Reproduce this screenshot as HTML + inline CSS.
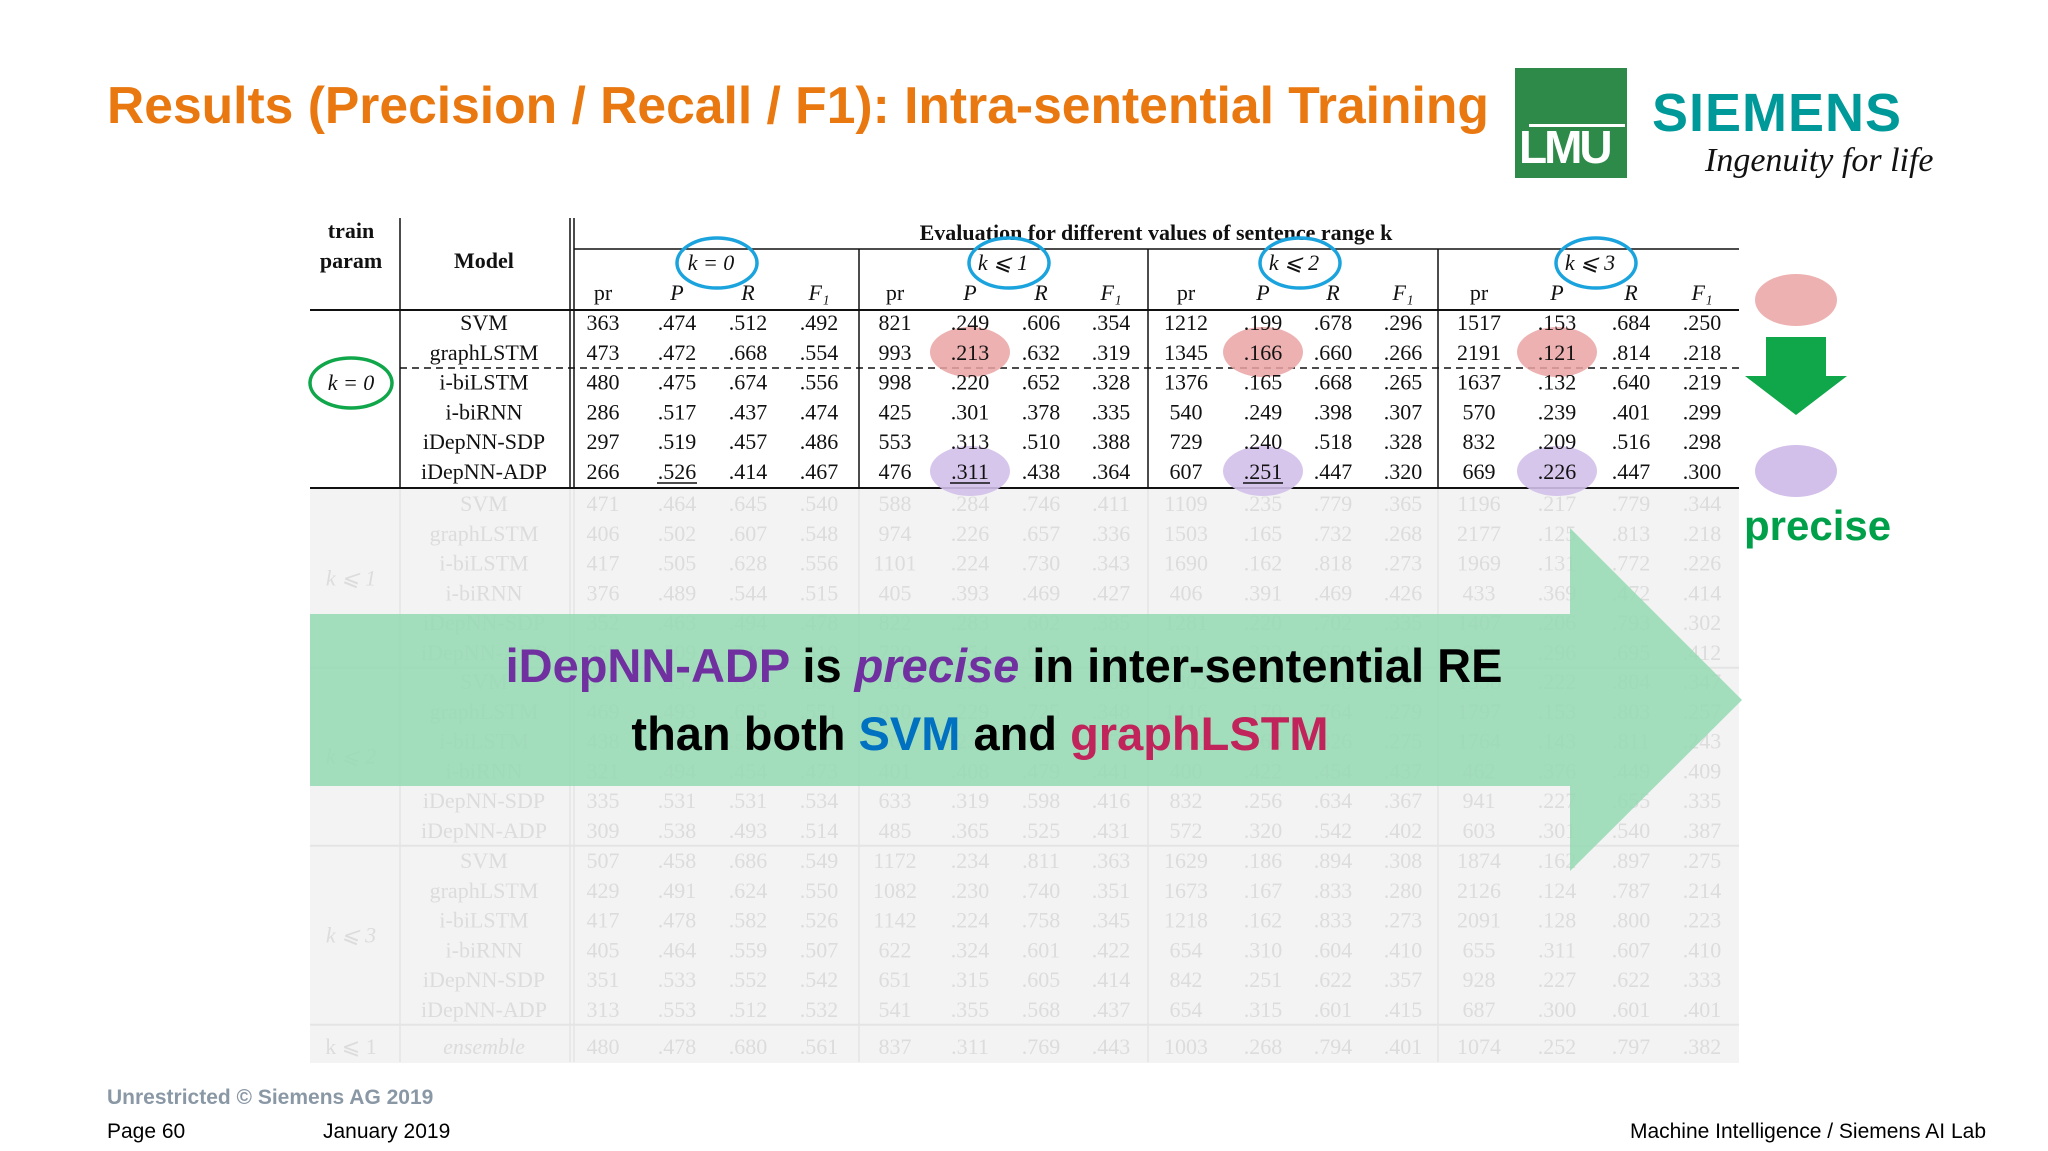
<!DOCTYPE html>
<html><head><meta charset="utf-8"><style>
body{margin:0;width:2048px;height:1151px;background:#fff;overflow:hidden;position:relative;font-family:"Liberation Sans",sans-serif}
.abs{position:absolute}
</style></head><body>
<div class="abs" style="left:107px;top:75px;font-size:51.6px;font-weight:bold;color:#E8780F;white-space:nowrap">Results (Precision / Recall / F1): Intra-sentential Training</div>
<div class="abs" style="left:1515px;top:68px;width:112px;height:110px;background:#2D8A48;">
 <div style="position:absolute;left:4px;bottom:4px;color:#fff;font-size:46px;font-weight:bold;letter-spacing:-3px;font-family:'Liberation Sans Narrow','Liberation Sans',sans-serif">LMU</div>
 <div style="position:absolute;left:14px;top:56px;width:96px;height:3px;background:#fff"></div>
</div>
<div class="abs" style="left:1652px;top:82px;font-size:54px;font-weight:bold;color:#009999;letter-spacing:1px">SIEMENS</div>
<div class="abs" style="left:1705px;top:142px;font-size:34px;font-style:italic;font-family:'Liberation Serif',serif;color:#111">Ingenuity for life</div>

<svg class="abs" style="left:0;top:0" width="2048" height="1151" id="tbl"></svg>

<div class="abs" style="left:1744px;top:502px;font-size:42px;font-weight:bold;color:#00A04A">precise</div>

<div class="abs" style="left:107px;top:1086px;font-size:21px;font-weight:bold;color:#8a98a6">Unrestricted © Siemens AG 2019</div>
<div class="abs" style="left:107px;top:1120px;font-size:21px;color:#000">Page 60</div>
<div class="abs" style="left:323px;top:1120px;font-size:21px;color:#000">January 2019</div>
<div class="abs" style="right:62px;top:1120px;font-size:21px;color:#000">Machine Intelligence / Siemens AI Lab</div>

<script>
const models=["SVM","graphLSTM","i-biLSTM","i-biRNN","iDepNN-SDP","iDepNN-ADP"];
const groupLabels=["k = 0","k ⩽ 1","k ⩽ 2","k ⩽ 3"];
const colHeads=["pr","P","R","F₁"];
const rowsK0=[
["363",".474",".512",".492","821",".249",".606",".354","1212",".199",".678",".296","1517",".153",".684",".250"],
["473",".472",".668",".554","993",".213",".632",".319","1345",".166",".660",".266","2191",".121",".814",".218"],
["480",".475",".674",".556","998",".220",".652",".328","1376",".165",".668",".265","1637",".132",".640",".219"],
["286",".517",".437",".474","425",".301",".378",".335","540",".249",".398",".307","570",".239",".401",".299"],
["297",".519",".457",".486","553",".313",".510",".388","729",".240",".518",".328","832",".209",".516",".298"],
["266",".526",".414",".467","476",".311",".438",".364","607",".251",".447",".320","669",".226",".447",".300"]];
const rowsK1=[
["471",".464",".645",".540","588",".284",".746",".411","1109",".235",".779",".365","1196",".217",".779",".344"],
["406",".502",".607",".548","974",".226",".657",".336","1503",".165",".732",".268","2177",".125",".813",".218"],
["417",".505",".628",".556","1101",".224",".730",".343","1690",".162",".818",".273","1969",".131",".772",".226"],
["376",".489",".544",".515","405",".393",".469",".427","406",".391",".469",".426","433",".369",".472",".414"],
["352",".463",".494",".478","822",".283",".602",".385","1281",".220",".702",".335","1407",".206",".793",".302"],
["358",".509",".511",".510","720",".354",".602",".421","821",".322",".659",".423","929",".296",".695",".412"]];
const rowsK2=[
["476",".457",".653",".538","683",".250",".797",".380","1302",".220",".798",".345","1358",".222",".804",".347"],
["469",".493",".625",".551","920",".229",".725",".348","1416",".170",".764",".279","1797",".153",".803",".257"],
["438",".511",".594",".549","964",".239",".692",".355","1406",".165",".826",".275","1764",".143",".811",".243"],
["321",".494",".454",".473","401",".408",".479",".441","400",".422",".454",".437","462",".376",".449",".409"],
["335",".531",".531",".534","633",".319",".598",".416","832",".256",".634",".367","941",".227",".655",".335"],
["309",".538",".493",".514","485",".365",".525",".431","572",".320",".542",".402","603",".301",".540",".387"]];
const rowsK3=[
["507",".458",".686",".549","1172",".234",".811",".363","1629",".186",".894",".308","1874",".162",".897",".275"],
["429",".491",".624",".550","1082",".230",".740",".351","1673",".167",".833",".280","2126",".124",".787",".214"],
["417",".478",".582",".526","1142",".224",".758",".345","1218",".162",".833",".273","2091",".128",".800",".223"],
["405",".464",".559",".507","622",".324",".601",".422","654",".310",".604",".410","655",".311",".607",".410"],
["351",".533",".552",".542","651",".315",".605",".414","842",".251",".622",".357","928",".227",".622",".333"],
["313",".553",".512",".532","541",".355",".568",".437","654",".315",".601",".415","687",".300",".601",".401"]];
const rowEnsemble=["480",".478",".680",".561","837",".311",".769",".443","1003",".268",".794",".401","1074",".252",".797",".382"];

const NS="http://www.w3.org/2000/svg";
const svg=document.getElementById('tbl');
function el(t,a,name){const e=document.createElementNS(NS,t);for(const k in a)e.setAttribute(k,a[k]);


svg.appendChild(e);return e;}
function txt(x,y,s,name,o){const e=el('text',Object.assign({x:x,y:y,'text-anchor':'middle','font-family':'Liberation Serif, serif','font-size':22,fill:'#111'},o||{}),name);e.textContent=s;return e;}
const colX=[603,677,748,819,895,970,1041,1111,1186,1263,1333,1403,1479,1557,1631,1702];
const groupX=[711,1003,1294,1590];
const L=310,R=1739,rowY0=330,step=29.8;
const FC='#dcdcdc';
el('rect',{x:L,y:489,width:R-L,height:574,fill:'#f3f3f3'},'faded-table-background');
const fadedGroups=[rowsK1,rowsK2,rowsK3];
const fadedStart=[511,689,868];
fadedGroups.forEach((g,gi)=>{
 txt(351,fadedStart[gi]+step*2.5,groupLabels[gi+1],'faded-train-label',{fill:FC,'font-style':'italic'});
 g.forEach((r,ri)=>{const y=fadedStart[gi]+ri*step;
  txt(484,y,models[ri],'faded-model-name',{fill:FC});
  r.forEach((v,ci)=>txt(colX[ci],y,v,'faded-cell',{fill:FC}));});
 el('line',{x1:L,x2:R,y1:fadedStart[gi]+6*step-22,y2:fadedStart[gi]+6*step-22,stroke:'#e4e4e4','stroke-width':2},'faded-group-rule');
});
txt(351,1054,'k ⩽ 1','faded-train-label',{fill:FC});
txt(484,1054,'ensemble','faded-model-name',{fill:FC,'font-style':'italic'});
rowEnsemble.forEach((v,ci)=>txt(colX[ci],1054,v,'faded-cell',{fill:FC}));
[400,570,574,859,1148,1438].forEach(x=>el('line',{x1:x,x2:x,y1:489,y2:1062,stroke:'#e4e4e4','stroke-width':1.5},'faded-vertical-rule'));
txt(351,238,'train','train-header',{'font-weight':'bold'});
txt(351,268,'param','param-header',{'font-weight':'bold'});
txt(484,268,'Model','model-header',{'font-weight':'bold'});
txt(1156,240,'Evaluation for different values of sentence range k','evaluation-header',{'font-weight':'bold'});
groupLabels.forEach((g,i)=>txt(groupX[i],270,g,'range-header',{'font-style':'italic'}));
colX.forEach((x,i)=>txt(x,300,colHeads[i%4],'column-header',{'font-style':i%4?'italic':'normal'}));
el('line',{x1:574,x2:R,y1:249,y2:249,stroke:'#111','stroke-width':1.5},'header-rule');
el('line',{x1:L,x2:R,y1:310,y2:310,stroke:'#111','stroke-width':2},'header-bottom-rule');
el('line',{x1:L,x2:R,y1:488,y2:488,stroke:'#111','stroke-width':2},'table-bottom-rule');
el('line',{x1:400,x2:R,y1:368,y2:368,stroke:'#111','stroke-width':1.5,'stroke-dasharray':'7,5'},'dashed-rule');
[[400,218],[570,218],[574,218],[859,249],[1148,249],[1438,249]].forEach(([x,y])=>el('line',{x1:x,x2:x,y1:y,y2:488,stroke:'#111','stroke-width':1.5},'vertical-rule'));
[970,1263,1557].forEach(x=>{
 el('ellipse',{cx:x,cy:352,rx:40,ry:25,fill:'#eba3a3',opacity:0.85},'highlight-graphlstm-p');
 el('ellipse',{cx:x,cy:471,rx:40,ry:25,fill:'#d3c0ea',opacity:0.9},'highlight-idepnn-adp-p');});
rowsK0.forEach((r,ri)=>{const y=rowY0+ri*step;
 txt(484,y,models[ri],'model-name');
 r.forEach((v,ci)=>{txt(colX[ci],y,v,'table-cell');
  if(ri==5&&(ci%4==1&&ci!=13||ci==1)) el('line',{x1:colX[ci]-20,x2:colX[ci]+20,y1:y+4,y2:y+4,stroke:'#111','stroke-width':1.5},'underline-best');});});
txt(351,390,'k = 0','train-param-label',{'font-style':'italic'});
groupX.forEach(x=>el('ellipse',{cx:x+6,cy:263,rx:40,ry:25,fill:'none',stroke:'#1aa3dd','stroke-width':3.5},'range-circle'));
el('ellipse',{cx:351,cy:383,rx:41,ry:25,fill:'none',stroke:'#10a64a','stroke-width':3.5},'k0-circle');
el('ellipse',{cx:1796,cy:300,rx:41,ry:26,fill:'#eba3a3',opacity:0.85},'legend-pink-ellipse');
el('polygon',{points:'1766,337 1826,337 1826,376 1847,376 1796,415 1745,376 1766,376',fill:'#10a64a'},'legend-down-arrow');
el('ellipse',{cx:1796,cy:471,rx:41,ry:26,fill:'#d3c0ea'},'legend-purple-ellipse');
el('polygon',{points:'310,614 1570,614 1570,528 1742,700 1570,871 1570,786 310,786',fill:'rgb(150,218,180)',opacity:0.88},'callout-arrow');
const t1=el('text',{x:1004,y:682,'text-anchor':'middle','font-family':'Liberation Sans, sans-serif','font-size':47,'font-weight':'bold',fill:'#000'},'callout-line-1');
t1.innerHTML='<tspan fill="#7030A0">iDepNN-ADP</tspan> is <tspan fill="#7030A0" font-style="italic">precise</tspan> in inter-sentential RE';
const t2=el('text',{x:980,y:750,'text-anchor':'middle','font-family':'Liberation Sans, sans-serif','font-size':47,'font-weight':'bold',fill:'#000'},'callout-line-2');
t2.innerHTML='than both <tspan fill="#0070C0">SVM</tspan> and <tspan fill="#C0245A">graphLSTM</tspan>';
</script>
</body></html>
